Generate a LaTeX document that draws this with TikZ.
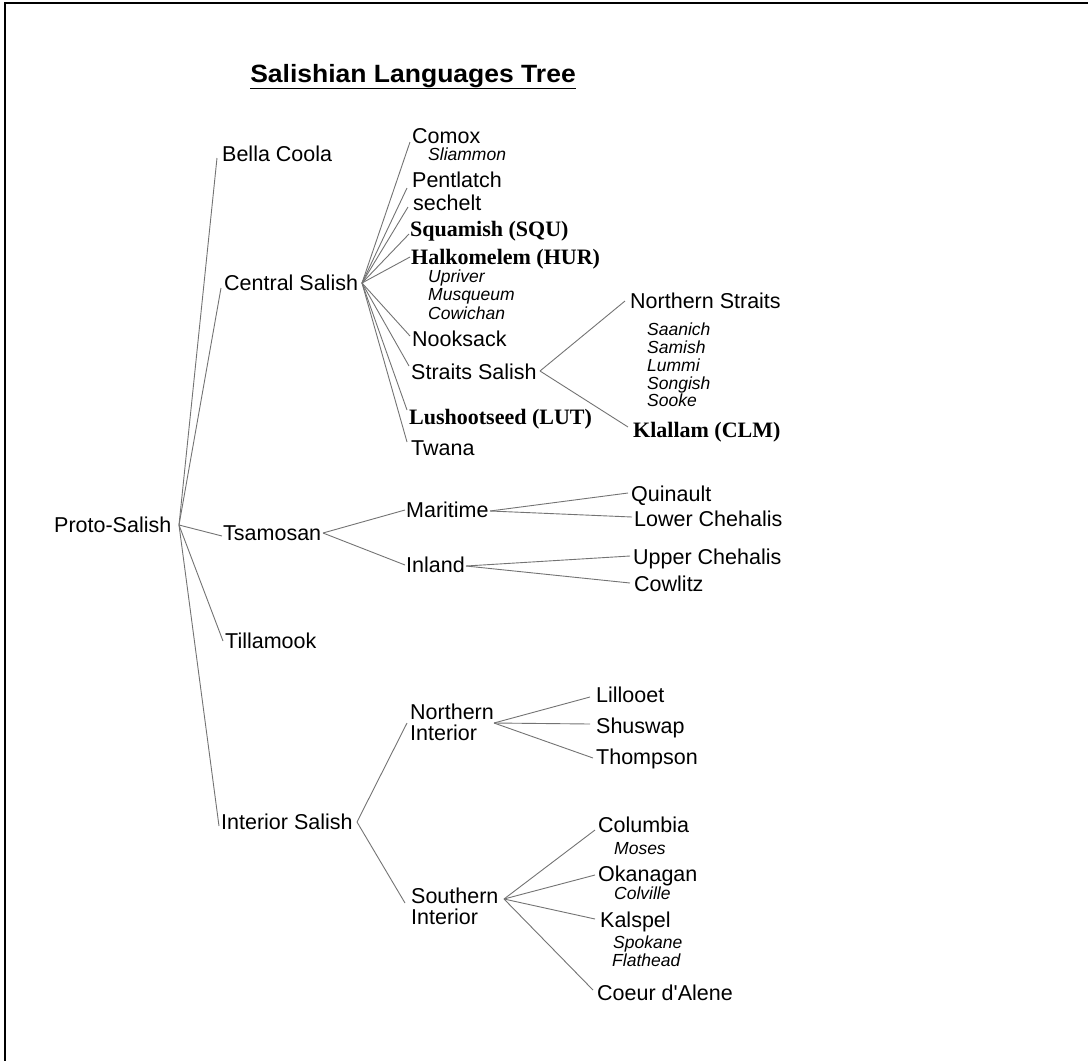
\documentclass[tikz,border=0pt]{standalone}
\usepackage{fontspec}
\setmainfont{Liberation Sans}
\newfontfamily\plainsans{Liberation Sans}[Ligatures=TeXOff]
\newfontfamily\tmsfont{Liberation Serif}
\usetikzlibrary{calc}
\tikzset{
  lab/.style={anchor=west, inner sep=0pt, text height=15.4pt, text depth=0pt,
    font=\fontsize{21.5}{21}\selectfont},
  lab2/.style={anchor=west, inner sep=0pt, align=left,
    font=\fontsize{21.5}{21}\selectfont},
  sub/.style={anchor=west, inner sep=0pt, text height=12.5pt, text depth=0pt,
    font=\fontsize{17.5}{18}\selectfont\itshape},
  bld/.style={anchor=west, inner sep=0pt, text height=14.6pt, text depth=0pt,
    font=\fontsize{22}{22}\selectfont\tmsfont\bfseries},
  link/.style={draw=black!55, line width=0.9pt},
}
\begin{document}
\begin{tikzpicture}[x=1pt,y=-1pt]
\useasboundingbox (0,0) rectangle (1088,1061);
% frame (top and left edges)
\draw[line width=2pt] (5,1061) -- (5,3) -- (1088,3);

% title
\node[inner sep=0pt, font=\fontsize{25}{25}\selectfont\bfseries] (title) at (413,76)
  {\scalebox{1.06}[1]{Salishian Languages Tree}};
\draw[line width=1.8pt] ([yshift=-0.5pt]title.south west) -- ([yshift=-0.5pt]title.south east);

% level 0
\node[lab] (ps) at (54,525) {Proto-Salish};
\coordinate (ps-o) at (179,525);

% level 1
\node[lab] (bc) at (222,154) {Bella Coola};
\coordinate (bc-i) at (217,158);
\node[lab] (cs) at (224,283) {Central Salish};
\coordinate (cs-i) at (221,288);
\coordinate (cs-o) at (362,283);
\node[lab] (ts) at (223,533) {Tsamosan};
\coordinate (ts-i) at (222,536);
\coordinate (ts-o) at (323,533);
\node[lab] (ti) at (225,641) {Tillamook};
\coordinate (ti-i) at (223,641);
\node[lab] (is) at (221,822) {Interior Salish};
\coordinate (is-i) at (219,826);
\coordinate (is-o) at (357,822);

\foreach \c in {bc,cs,ts,ti,is} \draw[link] (ps-o) -- (\c-i);

% Central Salish
\node[lab] (comox) at (412,136) {Comox};
\coordinate (comox-i) at (410,142);
\node[sub] (sliammon) at (428,154) {Sliammon};
\node[lab] (pent) at (412,180) {Pentlatch};
\coordinate (pent-i) at (407,188);
\node[lab] (sech) at (413,203) {sechelt};
\coordinate (sech-i) at (408,207);
\node[bld] (squ) at (410,229) {Squamish (SQU)};
\coordinate (squ-i) at (409,234);
\node[bld] (hur) at (411,257) {Halkomelem (HUR)};
\coordinate (hur-i) at (410,257);
\node[sub] (upriver) at (428,276) {Upriver};
\node[sub] (musq) at (428,294) {Musqueum};
\node[sub] (cowi) at (428,313) {Cowichan};
\node[lab] (nook) at (412,339) {Nooksack};
\coordinate (nook-i) at (410,336);
\node[lab] (strs) at (411,372) {Straits Salish};
\coordinate (strs-i) at (409,366);
\coordinate (strs-o) at (540,371);
\node[bld] (lut) at (409,417) {Lushootseed (LUT)};
\coordinate (lut-i) at (407,410);
\node[lab] (twana) at (411,448) {Twana};
\coordinate (twana-i) at (407,442);

\foreach \c in {comox,pent,sech,squ,hur,nook,strs,lut,twana} \draw[link] (cs-o) -- (\c-i);

% Straits Salish
\node[lab] (nstr) at (630,301) {Northern Straits};
\coordinate (nstr-i) at (625,301);
\node[sub] (saan) at (647,329) {Saanich};
\node[sub] (sami) at (647,347) {Samish};
\node[sub] (lumm) at (647,365) {Lummi};
\node[sub] (song) at (647,383) {Songish};
\node[sub] (sook) at (647,400) {Sooke};
\node[bld] (clm) at (633,430) {Klallam (CLM)};
\coordinate (clm-i) at (628,427);
\foreach \c in {nstr,clm} \draw[link] (strs-o) -- (\c-i);

% Tsamosan
\node[lab] (mari) at (406,510) {Maritime};
\coordinate (mari-i) at (405,510);
\coordinate (mari-o) at (490,511);
\node[lab] (inla) at (406,565) {Inland};
\coordinate (inla-i) at (405,565);
\coordinate (inla-o) at (466,566);
\foreach \c in {mari,inla} \draw[link] (ts-o) -- (\c-i);

\node[lab] (quin) at (631,494) {Quinault};
\coordinate (quin-i) at (628,493);
\node[lab] (lche) at (634,519) {Lower Chehalis};
\coordinate (lche-i) at (632,517);
\foreach \c in {quin,lche} \draw[link] (mari-o) -- (\c-i);
\node[lab] (uche) at (633,557) {Upper Chehalis};
\coordinate (uche-i) at (630,556);
\node[lab] (cowl) at (634,584) {Cowlitz};
\coordinate (cowl-i) at (630,583);
\foreach \c in {uche,cowl} \draw[link] (inla-o) -- (\c-i);

% Interior Salish
\node[lab2] (ni) at (410,722.5) {Northern\\Interior};
\coordinate (ni-i) at (407,723);
\coordinate (ni-o) at (494,723);
\node[lab2] (si) at (411,906) {Southern\\Interior};
\coordinate (si-i) at (405,903);
\coordinate (si-o) at (504,899);
\foreach \c in {ni,si} \draw[link] (is-o) -- (\c-i);

\node[lab] (lill) at (596,695) {Lillooet};
\coordinate (lill-i) at (590,697);
\node[lab] (shus) at (596,726) {Shuswap};
\coordinate (shus-i) at (590,724);
\node[lab] (thom) at (596,757) {Thompson};
\coordinate (thom-i) at (593,758);
\foreach \c in {lill,shus,thom} \draw[link] (ni-o) -- (\c-i);

\node[lab] (colu) at (598,825) {Columbia};
\coordinate (colu-i) at (595,830);
\node[sub] (mose) at (614,848) {Moses};
\node[lab] (okan) at (598,874) {Okanagan};
\coordinate (okan-i) at (595,875);
\node[sub] (colv) at (614,893) {Colville};
\node[lab] (kals) at (600,920) {Kalspel};
\coordinate (kals-i) at (595,919);
\node[sub] (spok) at (613,942) {Spokane};
\node[sub] (flat) at (612,960) {Flathead};
\node[lab] (coeu) at (597,993) {Coeur d{\plainsans'}Alene};
\coordinate (coeu-i) at (593,990);
\foreach \c in {colu,okan,kals,coeu} \draw[link] (si-o) -- (\c-i);
\end{tikzpicture}
\end{document}
